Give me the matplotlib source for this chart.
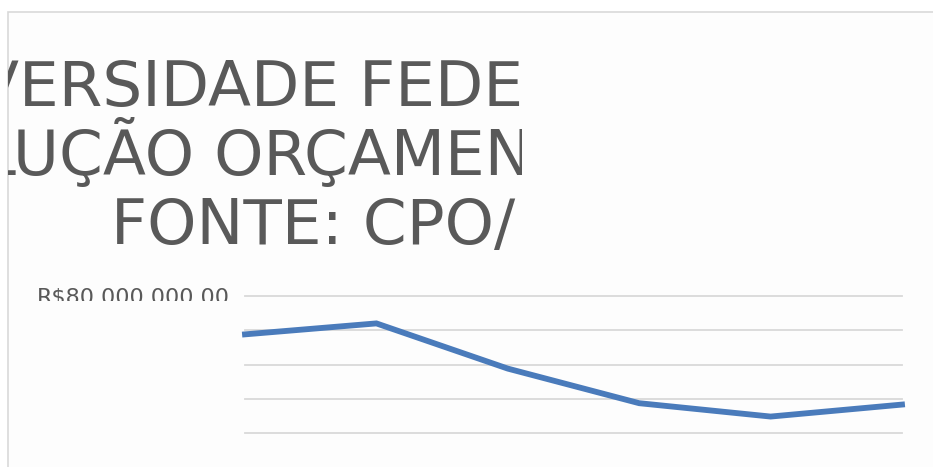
import matplotlib
matplotlib.use('Agg')
import matplotlib.pyplot as plt
from matplotlib.patches import Rectangle
from matplotlib.transforms import Bbox

# data (x labels are not visible)
periods = ['P1', 'P2', 'P3', 'P4', 'P5', 'P6']
values = [68.8e6, 72.0e6, 58.8e6, 48.7e6, 44.8e6, 48.3e6]
yticks = [40e6, 50e6, 60e6, 70e6, 80e6]
ytick_label_top = 'R$80.000.000,00'
title_lines = ['VERSIDADE FEDERAL', 'LUÇÃO ORÇAMENTÁRIA', 'FONTE: CPO/']

W, H = 933, 467
fig = plt.figure(figsize=(W / 100, H / 100), dpi=100)
fig.patch.set_facecolor('white')

def px(x, y):
    # pixel from top-left -> figure fraction
    return x / W, 1 - y / H

# chart border
fig.patches.append(Rectangle(px(8, 480), (W + 20) / W, 468 / H, transform=fig.transFigure,
                             facecolor='#fdfdfd', edgecolor='#d9d9d9', lw=1.2, zorder=-5))

grey = '#595959'

# title, cut off at both sides
clip = Bbox.from_extents(8, 0, 522, H)
baselines = [106, 175, 244]
starts = [-24, -19, 111]
for line, x0, yb in zip(title_lines, starts, baselines):
    t = fig.text(*px(x0, yb), line, fontsize=45.3, color=grey, ha='left', va='baseline',
                 clip_on=True)
    t.set_clip_box(clip)

# plot area
left, right, top, bottom = 245, 902, 296, 433
ax = fig.add_axes([left / W, 1 - bottom / H, (right - left) / W, (bottom - top) / H])
ax.set_facecolor('none')
x = list(range(len(periods)))
ax.plot(x, values, color='#4a7bbb', lw=4.2, solid_joinstyle='miter', clip_on=False, zorder=3)
ax.set_xlim(0, len(periods) - 1)
ax.set_ylim(yticks[0], yticks[-1])
for v in yticks:
    ax.axhline(v, color='#d9d9d9', lw=1.3, zorder=1, clip_on=False)
for s in ax.spines.values():
    s.set_visible(False)
ax.set_xticks([])
ax.set_yticks([])

# only the top tick label shows, and it is cut at the bottom
lab = fig.text(*px(230, 304), ytick_label_top, fontsize=16, color=grey, ha='right',
               va='baseline', clip_on=True)
lab.set_clip_box(Bbox.from_extents(0, H - 301, W, H))

fig.savefig('out.png', dpi=100)
